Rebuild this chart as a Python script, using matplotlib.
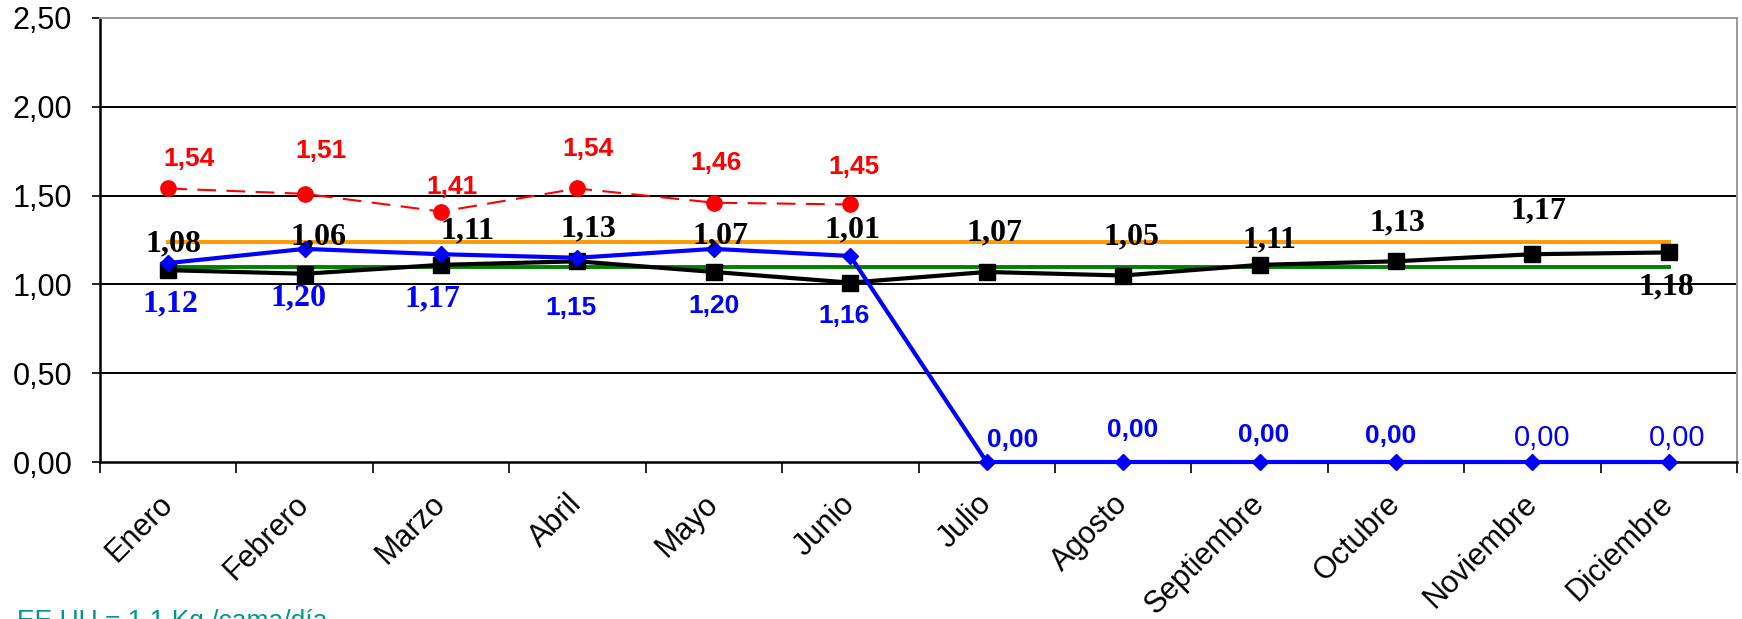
import numpy as np
import matplotlib
matplotlib.use("Agg")
import matplotlib.pyplot as plt


W, H = 1742, 619
DPI = 100

MONTHS = ["Enero", "Febrero", "Marzo", "Abril", "Mayo", "Junio", "Julio",
          "Agosto", "Septiembre", "Octubre", "Noviembre", "Diciembre"]

# series values (kg/cama/dia)
red_vals = [1.54, 1.51, 1.41, 1.54, 1.46, 1.45]
blue_vals = [1.12, 1.20, 1.17, 1.15, 1.20, 1.16, 0.00, 0.00, 0.00, 0.00, 0.00, 0.00]
black_vals = [1.08, 1.06, 1.11, 1.13, 1.07, 1.01, 1.07, 1.05, 1.11, 1.13, 1.17, 1.18]
orange_ref = 1.24
green_ref = 1.10

Y_TICKS = [0.0, 0.5, 1.0, 1.5, 2.0, 2.5]

# label offsets in pixels (dx, dy up)
red_off = [(21, 29), (16, 43), (11, 25), (11, 39), (2, 40), (4, 37)]
black_off = [(5, 26), (14, 37), (26, 34), (11, 32), (7, 36), (2, 53),
             (8, 39), (8, 39), (10, 25), (1, 38), (6, 43), (-2, -34)]
blue_off = [(2, -41), (-6, -49), (-9, -45), (-6, -50), (0, -57), (-6, -60),
            (26, 22), (10, 32), (4, 27), (-5, 26), (10, 24), (8, 24)]
# label style for blue: 'serif' bold, 'sansb' bold, 'sans' regular
blue_style = ["serif", "serif", "serif", "sansb", "sansb", "sansb",
              "sansb", "sansb", "sansb", "sansb", "sans", "sans"]


def fmt(v):
    return f"{v:.2f}".replace(".", ",")


def main():
    plt.rcParams['font.family'] = ['Liberation Sans', 'DejaVu Sans']
    fig = plt.figure(figsize=(W / DPI, H / DPI), dpi=DPI)
    ax = fig.add_axes([100 / W, 1 - 462 / H, 1637 / W, 444 / H])

    x = np.arange(len(MONTHS))
    xr = np.arange(len(red_vals))

    ax.plot(x, [orange_ref] * len(x), color="#ff9900", lw=2.8, zorder=3)
    ax.plot(x, [green_ref] * len(x), color="#008000", lw=2.8, zorder=3)
    ax.plot(x, black_vals, color="black", lw=3.0, marker="s", ms=11, zorder=4)
    ax.plot(x, blue_vals, color="#0000ff", lw=3.0, marker="D", ms=8.5, zorder=5,
            clip_on=False)
    ax.plot(xr, red_vals, color="#ff0000", lw=1.5, ls=(0, (9, 5)), marker="o",
            ms=11, zorder=6)

    for i, v in enumerate(red_vals):
        dx, dy = red_off[i]
        ax.annotate(fmt(v), (i, v), xytext=(dx, dy), textcoords="offset pixels",
                    ha="center", va="center", color="#ff0000", fontsize=19,
                    fontweight="bold", zorder=8)
    for i, v in enumerate(black_vals):
        dx, dy = black_off[i]
        ax.annotate(fmt(v), (i, v), xytext=(dx, dy), textcoords="offset pixels",
                    ha="center", va="center", color="black", fontsize=23,
                    fontweight="bold", family="Liberation Serif", zorder=8)
    for i, v in enumerate(blue_vals):
        dx, dy = blue_off[i]
        st = blue_style[i]
        if st == "serif":
            kw = dict(family="Liberation Serif", fontweight="bold", fontsize=23)
        elif st == "sansb":
            kw = dict(fontweight="bold", fontsize=19)
        else:
            kw = dict(fontweight="normal", fontsize=21)
        ax.annotate(fmt(v), (i, v), xytext=(dx, dy), textcoords="offset pixels",
                    ha="center", va="center", color="#0000ff", zorder=8, **kw)

    ax.set_xlim(-0.5, len(MONTHS) - 0.5)
    ax.set_ylim(0, 2.5)
    ax.set_yticks(Y_TICKS)
    ax.set_yticklabels([fmt(t) for t in Y_TICKS], fontsize=22)
    for t in Y_TICKS[1:-1]:
        ax.axhline(t, color="black", lw=1.4, zorder=1)

    ax.set_xticks(x)
    ax.set_xticklabels(MONTHS, rotation=45, ha="right", va="center",
                       rotation_mode="anchor", fontsize=22)
    ax.set_xticks(np.arange(-0.5, len(MONTHS), 1.0), minor=True)
    ax.tick_params(axis="x", which="major", length=0, pad=27)
    ax.tick_params(axis="x", which="minor", direction="out", length=8, width=1.2)
    ax.tick_params(axis="y", direction="out", length=6, width=1.2, pad=14)

    for s in ["left", "bottom"]:
        ax.spines[s].set_color("black")
        ax.spines[s].set_linewidth(1.8)
    for s in ["top", "right"]:
        ax.spines[s].set_color("#999999")
        ax.spines[s].set_linewidth(1.4)

    fig.text(17 / W, 1 - 628 / H, "EE UU = 1,1 Kg./cama/día", color="#00968c",
             fontsize=19, ha="left", va="baseline")

    fig.savefig("out.png", dpi=DPI)


if __name__ == "__main__":
    main()
